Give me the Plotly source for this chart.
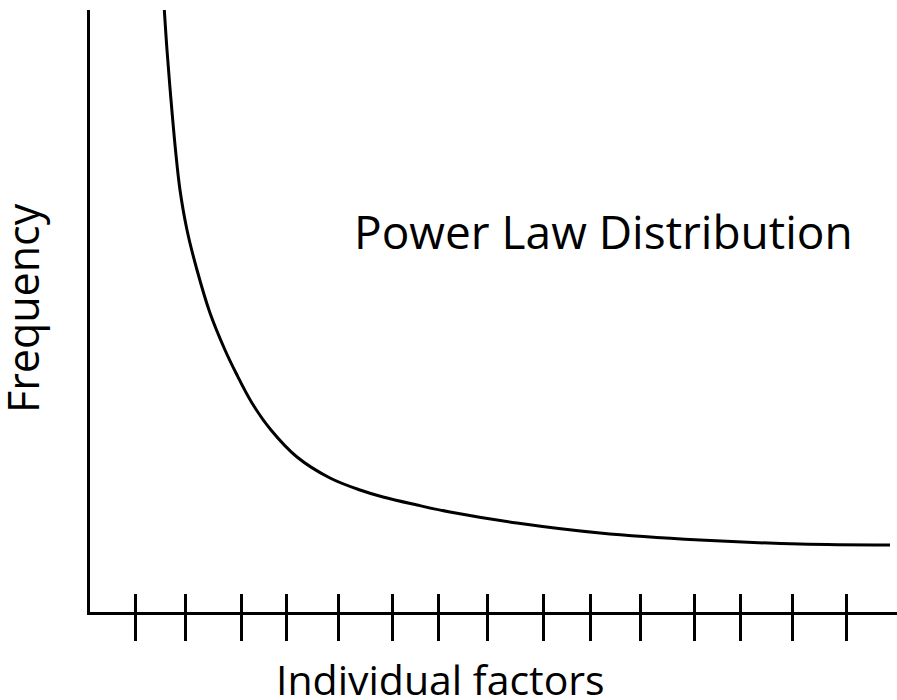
import plotly.graph_objects as go

# Curve samples (x: individual factors, y: frequency)
curve_x = [74, 77, 81, 85.5, 90, 97, 107, 120, 135, 146, 162, 181, 207, 240, 270, 293, 327, 360, 427, 510, 610, 710, 800]
curve_y = [607, 562, 512, 462, 422, 382, 342, 299, 262, 239, 209, 182, 155, 134, 122, 115, 107, 100, 89, 79, 72, 68, 67]

# Tick mark positions along the x axis (unlabelled)
tick_x = [45, 95, 151, 196, 248, 302, 348, 397, 453, 500, 550, 604, 650, 702, 756]

fig = go.Figure()
fig.add_trace(go.Scatter(
    x=curve_x, y=curve_y, mode="lines",
    line=dict(color="black", width=3, shape="spline", smoothing=1.0),
    showlegend=False, hoverinfo="skip",
))
# invisible trace to activate the overlaid axis
fig.add_trace(go.Scatter(x=[tick_x[0]], y=[0], xaxis="x2", mode="markers",
                         marker=dict(opacity=0), showlegend=False, hoverinfo="skip"))

common = dict(range=[0, 807], tickvals=tick_x, ticktext=[""] * len(tick_x),
              showgrid=False, zeroline=False, tickcolor="black", tickwidth=3)
fig.update_layout(
    width=897, height=700,
    margin=dict(l=90, r=0, t=10, b=88, autoexpand=False),
    paper_bgcolor="white", plot_bgcolor="white",
    xaxis=dict(**common, ticks="outside", ticklen=26, showline=True,
               linecolor="black", linewidth=3),
    xaxis2=dict(**common, ticks="inside", ticklen=18, overlaying="x",
                side="bottom", showline=False, anchor="y"),
    yaxis=dict(range=[0, 602], showgrid=False, zeroline=False, showline=True,
               linecolor="black", linewidth=3, showticklabels=False, ticks=""),
    annotations=[
        dict(text="Power Law Distribution", xref="paper", yref="paper",
             x=(603 - 90) / 807, y=(612 - 231) / 602, showarrow=False,
             font=dict(family="Open Sans", size=46, color="black"),
             xanchor="center", yanchor="middle"),
        dict(text="Individual factors", xref="paper", yref="paper",
             x=(440 - 90) / 807, y=(612 - 679) / 602, showarrow=False,
             font=dict(family="Open Sans", size=41, color="black"),
             xanchor="center", yanchor="middle"),
        dict(text="Frequency", xref="paper", yref="paper", textangle=-90,
             x=(22 - 90) / 807, y=(612 - 308) / 602, showarrow=False,
             font=dict(family="Open Sans", size=43, color="black"),
             xanchor="center", yanchor="middle"),
    ],
)

fig.write_html("out.html", config={"displayModeBar": False},
               post_script="document.body.style.margin='0';")
